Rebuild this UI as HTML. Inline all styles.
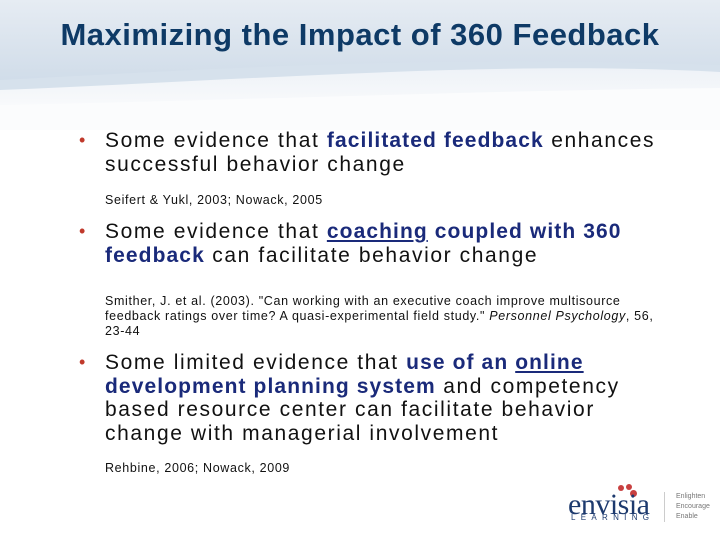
<!DOCTYPE html>
<html><head><meta charset="utf-8"><style>
body{margin:0;width:720px;height:540px;overflow:hidden;background:#fff;font-family:"Liberation Sans",sans-serif;position:relative}
.hdr{position:absolute;left:0;top:0;width:720px;height:130px}
h1{position:absolute;left:0;width:720px;top:17px;margin:0;text-align:center;font-size:31px;font-weight:bold;color:#0e3a66;letter-spacing:0.5px}
.b{position:absolute;left:105px;font-size:21px;line-height:23.5px;color:#111;width:560px;letter-spacing:1.6px}
.b::before{content:"•";position:absolute;left:-26px;color:#c0392b;font-size:18px}
.hl{color:#1a2a7a;font-weight:bold;letter-spacing:1.1px}
.ref{position:absolute;left:105px;font-size:12.5px;line-height:15px;color:#111;width:560px;letter-spacing:0.65px}
</style></head><body>
<svg class="hdr" width="720" height="130">
<defs><linearGradient id="g" x1="0" y1="0" x2="0" y2="1"><stop offset="0" stop-color="#e6ecf3"/><stop offset="1" stop-color="#c3d3e3"/></linearGradient>
<linearGradient id="g2" x1="0" y1="0" x2="0" y2="1"><stop offset="0" stop-color="#eef2f7"/><stop offset="1" stop-color="#ffffff"/></linearGradient></defs>
<rect width="720" height="130" fill="url(#g)"/>
<path d="M0 80 C200 70 400 55 720 65 L720 130 L0 130Z" fill="#d6e1ec"/>
<path d="M0 90 C250 80 500 60 720 72 L720 130 L0 130Z" fill="url(#g2)"/>
<path d="M0 105 C250 100 500 90 720 88 L720 130 L0 130Z" fill="#fbfcfd"/>
</svg>
<h1>Maximizing the Impact of 360 Feedback</h1>
<div class="b" style="top:129px">Some evidence that <span class="hl">facilitated feedback</span> enhances successful behavior change</div>
<div class="ref" style="top:193px">Seifert &amp; Yukl, 2003; Nowack, 2005</div>
<div class="b" style="top:220px">Some evidence that <span class="hl"><u>coaching</u> coupled with 360 feedback</span> can facilitate behavior change</div>
<div class="ref" style="top:294px">Smither, J. et al. (2003). "Can working with an executive coach improve multisource feedback ratings over time? A quasi-experimental field study." <i>Personnel Psychology</i>, 56, 23-44</div>
<div class="b" style="top:351px">Some limited evidence that <span class="hl">use of an <u>online</u> development planning system</span> and competency based resource center can facilitate behavior change with managerial involvement</div>
<div class="ref" style="top:461px">Rehbine, 2006; Nowack, 2009</div>
<div style="position:absolute;left:568px;top:484px;width:150px;height:50px">
<div style="position:absolute;left:50px;top:1px;width:6px;height:6px;border-radius:50%;background:#c84040"></div>
<div style="position:absolute;left:58px;top:0px;width:6px;height:6px;border-radius:50%;background:#c84040"></div>
<div style="position:absolute;left:62px;top:6px;width:7px;height:7px;border-radius:50%;background:#c84040"></div>
<div style="position:absolute;left:0;top:4px;font-family:'Liberation Serif',serif;font-size:30px;color:#1d3a6e;letter-spacing:-0.5px">envisia</div>
<div style="position:absolute;left:3px;top:29px;font-size:8px;color:#1d3a6e;letter-spacing:5.3px">LEARNING</div>
<div style="position:absolute;left:96px;top:8px;width:1px;height:30px;background:#ccc"></div>
<div style="position:absolute;left:108px;top:8px;font-size:7px;line-height:10px;color:#777">Enlighten<br>Encourage<br>Enable</div>
</div>
</body></html>
